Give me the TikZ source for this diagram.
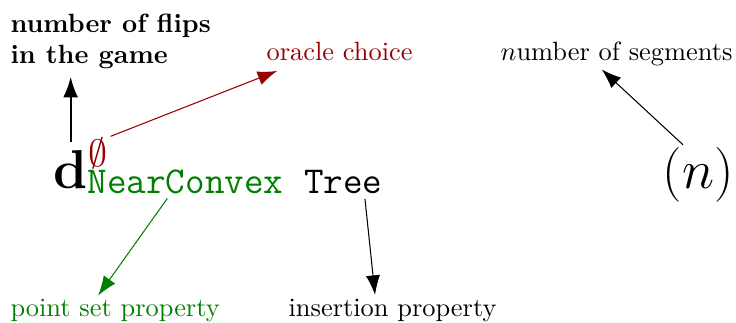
\documentclass[tikz,border=0pt]{standalone}
\usepackage{xcolor}
\usetikzlibrary{arrows.meta,positioning}
\definecolor{oraclered}{RGB}{150,0,0}
\definecolor{setgreen}{RGB}{0,128,0}
\begin{document}
\begin{tikzpicture}
  \tikzset{ t/.style={inner sep=0pt,anchor=base west},
    a/.style={-{Latex[length=7.4pt,width=5.4pt]},shorten <=2pt},
  }
  \useasboundingbox (0,0) rectangle (9.80,4.29);

  \node[inner sep=0pt,anchor=north west,align=left,font=\bfseries] (flips) at (0.133,4.116) {number of flips\\in the game};
  \node[t,text=oraclered] (oc) at (3.543,3.490) {oracle choice};
  \node[t] (seg) at (6.66,3.490) {$n$umber of segments};

  \node[t] (d) at (0.706,1.785) {\huge$\mathbf{d}$};
  \node[t,text=oraclered] (es) at (1.172,2.075) {\Large$\emptyset$};
  \node[t,text=setgreen,font=\Large\ttfamily] (nc) at (1.159,1.718) {NearConvex};
  \node[t,font=\Large\ttfamily,base right=7.5pt of nc] (tr) {Tree};
  \node[t] (n) at (8.818,1.785) {\huge$(n)$};

  \node[t,text=setgreen] (psp) at (0.133,0.08) {point set property};
  \node[t] (ip) at (3.836,0.08) {insertion property};

  \draw[thick,-{Latex[length=7.8pt,width=5.6pt]},shorten <=2.7pt,shorten >=2.7pt] (d.north) -- (d.north |- flips.south);
  \draw[a,oraclered,shorten <=1pt] (es.north east) -- ([xshift=4.2pt,yshift=-3.8pt]oc.south west);
  \draw[a,shorten <=1pt,shorten >=1.9pt] ([xshift=-5pt]n.north) -- ([xshift=-7pt]seg.south);
  \draw[a,setgreen,shorten >=1.3pt] ([xshift=-5.7pt]nc.south) -- ([xshift=-7.2pt]psp.north);
  \draw[a,shorten >=1.3pt] ([xshift=8pt]tr.south) -- ([xshift=-6.5pt]ip.north);

\end{tikzpicture}
\end{document}
